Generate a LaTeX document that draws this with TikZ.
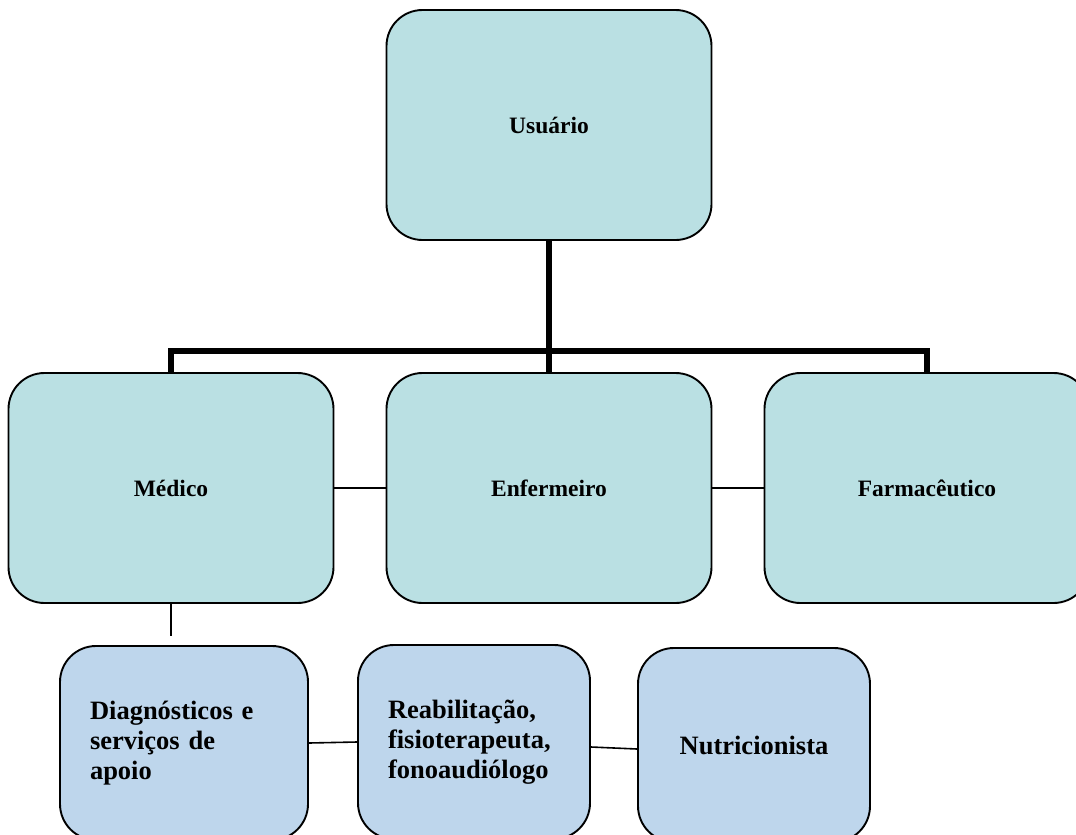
\documentclass[tikz,border=0pt]{standalone}
\usepackage{fontspec}
\setmainfont{Liberation Serif}
\definecolor{tealbox}{RGB}{186,224,227}
\definecolor{bluebox}{RGB}{190,214,236}
\begin{document}
\begin{tikzpicture}
    [
    x=1pt,y=-1pt,
    every node/.style={draw,line width=1.9pt,rounded corners=36pt,inner sep=0pt},
    toprow/.style={fill=tealbox,minimum width=325pt,minimum height=230pt,
      font=\fontsize{23.5}{28}\selectfont\bfseries},
    botrow/.style={fill=bluebox,minimum height=194pt,align=left,
      font=\fontsize{26.5}{30}\selectfont\bfseries},
    fork/.style={line width=5.5pt},
    link/.style={line width=1.6pt},
    ]
    \clip (0,0) rectangle (1076,835);
    % upper level
    \node[toprow] (usuario) at (549,125) {Usuário};
    \node[toprow] (medico) at (171,488) {Médico};
    \node[toprow] (enfermeiro) at (549,488) {Enfermeiro};
    \node[toprow] (farmaceutico) at (927,488) {Farmacêutico};
    % lower level
    \node[botrow,text width=188pt,inner xsep=30pt] (diagnostico) at (184,743)
      {Diagnósticos e\\serviços de\\apoio};
    \node[botrow,text width=172pt,inner xsep=30pt] (reabilitacao) at (474,742)
      {Reabilitação,\\fisioterapeuta,\\fonoaudiólogo};
    \node[botrow,minimum width=232pt,align=center] (nutricionista) at (754,745)
      {Nutricionista};
    % connectors
    \coordinate (split) at (549,351);
    \coordinate (medtail) at (171,636);
    \draw[fork] (usuario.south) -- (split) -| (medico.north);
    \draw[fork] (split) -| (farmaceutico.north);
    \draw[fork] (split) -- (enfermeiro.north);
    \draw[link] (medico.east) -- (enfermeiro.west);
    \draw[link] (enfermeiro.east) -- (farmaceutico.west);
    \draw[link] (medico.south) -- (medtail);
    \draw[link] (diagnostico.east) -- (reabilitacao.west);
    \draw[link] ([yshift=-5pt]reabilitacao.east) -- ([yshift=-4pt]nutricionista.west);
\end{tikzpicture}
\end{document}
